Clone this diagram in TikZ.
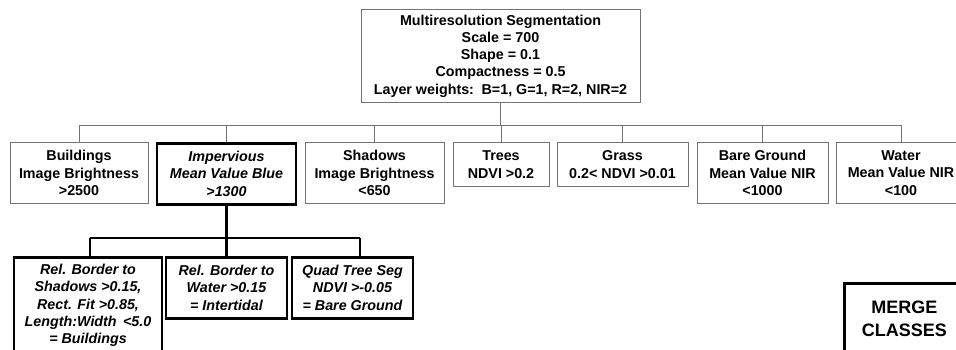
\documentclass[tikz,border=0pt]{standalone}
\usepackage{fontspec}
\setmainfont{Liberation Sans}
\usetikzlibrary{positioning, calc}

\begin{document}
\begin{tikzpicture}[
    x=1pt, y=-1pt,
    base/.style={rectangle, inner sep=0pt, align=center, anchor=north,
        font=\fontsize{14.3}{17.3}\selectfont\bfseries},
    classbox/.style={base, draw=black!55, line width=1pt, minimum height=61pt},
    keybox/.style={base, draw=black, line width=2.6pt, minimum height=61pt, font=\fontsize{14.3}{17.3}\selectfont\bfseries\itshape},
    branch/.style={draw=black!55, line width=1pt},
    thickbranch/.style={draw=black, line width=2.6pt}
]
\clip (0,0) rectangle (956,349);

% Nodes
\node[base, draw=black!55, line width=1pt, minimum width=279pt, minimum height=93pt] (seg) at (500.5,9)
    {Multiresolution Segmentation\\Scale = 700\\Shape = 0.1\\Compactness = 0.5\\Layer weights:\, B=1, G=1, R=2, NIR=2};

\node[classbox, minimum width=138pt] (bldg) at (79,142) {Buildings\\Image Brightness\\>2500};
\node[keybox, minimum width=139pt] (imperv) at (226.5,142) {Impervious\\Mean Value Blue\\>1300};
\node[classbox, minimum width=139pt] (shadow) at (374.5,142) {Shadows\\Image Brightness\\<650};
\node[classbox, minimum width=96pt, minimum height=44pt] (trees) at (501,142) {Trees\\NDVI >0.2};
\node[classbox, minimum width=131pt, minimum height=44pt] (grass) at (622.5,142) {Grass\\0.2< NDVI >0.01};
\node[classbox, minimum width=131pt] (bare) at (762.5,142) {Bare Ground\\Mean Value NIR\\<1000};
\node[classbox, minimum width=130pt] (water) at (901,142) {Water\\Mean Value NIR\\<100};

\node[keybox, minimum width=148pt, minimum height=96pt] (rule1) at (88,256)
    {Rel. Border to\\Shadows >0.15,\\Rect. Fit >0.85,\\Length:Width\, <5.0\\= Buildings};
\node[keybox, minimum width=121pt] (rule2) at (226.5,256) {Rel. Border to\\Water >0.15\\= Intertidal};
\node[keybox, minimum width=121pt] (rule3) at (352.5,256) {Quad Tree Seg\\NDVI >-0.05\\= Bare Ground};

\node[base, anchor=north west, draw=black, line width=2.6pt, minimum width=120pt, minimum height=70pt,
    font=\fontsize{18}{23}\selectfont\bfseries] (merge) at (843,282) {MERGE\\CLASSES};

% Connections
\coordinate (bus) at (0,125);
\draw[branch] (seg.south) -- (seg.south |- bus);
\draw[branch] (bldg.north |- bus) -- (water.north |- bus);
\foreach \n in {bldg, imperv, shadow, trees, grass, bare, water}
    \draw[branch] (\n.north |- bus) -- (\n.north);

\coordinate (subbus) at (0,238);
\draw[thickbranch] (imperv.south) -- (imperv.south |- subbus);
\draw[thickbranch] ([xshift=2pt]rule1.north |- subbus) -- ([xshift=7.5pt]rule3.north |- subbus);
\draw[thickbranch] ([xshift=2pt]rule1.north |- subbus) -- ([xshift=2pt]rule1.north);
\draw[thickbranch] (rule2.north |- subbus) -- (rule2.north);
\draw[thickbranch] ([xshift=7.5pt]rule3.north |- subbus) -- ([xshift=7.5pt]rule3.north);

\end{tikzpicture}
\end{document}
